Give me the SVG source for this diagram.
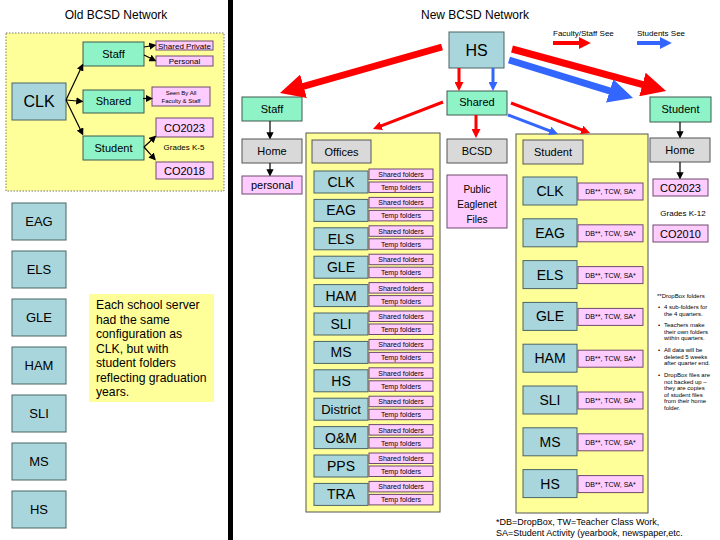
<svg xmlns="http://www.w3.org/2000/svg" width="720" height="540" viewBox="0 0 720 540">
<style>
text{font-family:"Liberation Sans",Arial,sans-serif;fill:#000}
.c{text-anchor:middle}
.teal{fill:#a9d6dc;stroke:#4a6464;stroke-width:1}
.mint{fill:#8ef3c6;stroke:#3d5a4e;stroke-width:1}
.pink{fill:#ffccff;stroke:#6e4a6e;stroke-width:1}
.gray{fill:#d9d9d9;stroke:#555;stroke-width:1}
.cont{fill:#ffff99;stroke:#555;stroke-width:1}
.rl{stroke:#ff0000;fill:none}
.bl{stroke:#3366ff;fill:none}
.kl{stroke:#000;stroke-width:1.2;fill:none;marker-end:url(#ak)}
.t16{font-size:16px}.t14{font-size:14px}.t13{font-size:13px}.t12{font-size:12px}.t11{font-size:11px}.t10{font-size:10px}.t8{font-size:8px}.t7{font-size:7px}.t6{font-size:6px}
.note{font-size:12.2px}
</style>
<defs>
<marker id="ar" viewBox="0 0 10 10" refX="1" refY="5" markerWidth="3" markerHeight="3" orient="auto"><path d="M0,0 L10,5 L0,10 z" fill="#ff0000"/></marker>
<marker id="ab" viewBox="0 0 10 10" refX="1" refY="5" markerWidth="3" markerHeight="3" orient="auto"><path d="M0,0 L10,5 L0,10 z" fill="#3366ff"/></marker>
<marker id="arB" viewBox="0 0 10 10" refX="1" refY="5" markerWidth="3.5" markerHeight="3.5" orient="auto"><path d="M0,0 L10,5 L0,10 z" fill="#ff0000"/></marker>
<marker id="abB" viewBox="0 0 10 10" refX="1" refY="5" markerWidth="3.5" markerHeight="3.5" orient="auto"><path d="M0,0 L10,5 L0,10 z" fill="#3366ff"/></marker>
<marker id="ak" viewBox="0 0 10 10" refX="1" refY="5" markerWidth="6" markerHeight="6" orient="auto"><path d="M0,0 L10,5 L0,10 z" fill="#000"/></marker>
</defs>
<rect width="720" height="540" fill="#fff"/>
<rect x="228" y="0" width="5" height="540" fill="#000"/>

<!-- OLD NETWORK -->
<text x="116" y="19" class="c t12">Old BCSD Network</text>
<rect x="6" y="33" width="218" height="158" fill="#ffff99" stroke="#777" stroke-width="1" stroke-dasharray="1.5,1.5"/>
<g id="old-clk"><rect x="12" y="83" width="54" height="37" class="teal"/><text x="39" y="107" class="c t16">CLK</text></g>
<g id="old-staff"><rect x="83" y="42" width="61" height="24" class="mint"/><text x="113.5" y="58" class="c t11">Staff</text></g>
<g id="old-shared"><rect x="83" y="90" width="61" height="23" class="mint"/><text x="113.5" y="105" class="c t11">Shared</text></g>
<g id="old-student"><rect x="83" y="136" width="61" height="24" class="mint"/><text x="113.5" y="152" class="c t11">Student</text></g>
<g id="old-sharedprivate"><rect x="156" y="41" width="57" height="9" class="pink"/><text x="184.5" y="48.5" class="c t8">Shared Private</text></g>
<g id="old-personal"><rect x="156" y="56" width="57" height="10" class="pink"/><text x="184.5" y="64" class="c t8">Personal</text></g>
<g id="old-seen"><rect x="152" y="87" width="58" height="19" class="pink"/><text x="181" y="95" class="c t6">Seen By All</text><text x="181" y="103" class="c t6">Faculty &amp; Staff</text></g>
<g id="old-co2023"><rect x="156" y="118" width="57" height="19" class="pink"/><text x="184.5" y="131.5" class="c t11">CO2023</text></g>
<text x="184" y="150" class="c t8">Grades K-5</text>
<g id="old-co2018"><rect x="156" y="162" width="57" height="17" class="pink"/><text x="184.5" y="174.5" class="c t11">CO2018</text></g>

<g id="old-eag"><rect x="12" y="203" width="54" height="37" class="teal"/><text x="39" y="226" class="c t13">EAG</text></g>
<g id="old-els"><rect x="12" y="251" width="54" height="37" class="teal"/><text x="39" y="274" class="c t13">ELS</text></g>
<g id="old-gle"><rect x="12" y="299" width="54" height="37" class="teal"/><text x="39" y="322" class="c t13">GLE</text></g>
<g id="old-ham"><rect x="12" y="347" width="54" height="37" class="teal"/><text x="39" y="370" class="c t13">HAM</text></g>
<g id="old-sli"><rect x="12" y="395" width="54" height="37" class="teal"/><text x="39" y="418" class="c t13">SLI</text></g>
<g id="old-ms"><rect x="12" y="443" width="54" height="37" class="teal"/><text x="39" y="466" class="c t13">MS</text></g>
<g id="old-hs"><rect x="12" y="491" width="54" height="37" class="teal"/><text x="39" y="514" class="c t13">HS</text></g>

<g id="note">
<rect x="89" y="294" width="125" height="108" fill="#ffff99"/>
<text x="96" y="309" class="note">Each school server</text>
<text x="96" y="323.5" class="note">had the same</text>
<text x="96" y="338" class="note">configuration as</text>
<text x="96" y="352.5" class="note">CLK, but with</text>
<text x="96" y="367" class="note">student folders</text>
<text x="96" y="381.5" class="note">reflecting graduation</text>
<text x="96" y="396" class="note">years.</text>
</g>

<!-- NEW NETWORK -->
<text x="475" y="19" class="c t12">New BCSD Network</text>
<text x="553" y="36" class="t8">Faculty/Staff See</text>
<text x="637" y="36" class="t8">Students See</text>

<rect x="306" y="133" width="134" height="379" class="cont"/>
<rect x="516" y="134" width="132" height="379" class="cont"/>

<g id="hs"><rect x="449" y="32" width="55" height="36" class="teal"/><text x="476.5" y="56" class="c t16">HS</text></g>
<g id="staff"><rect x="242" y="97" width="60" height="24" class="mint"/><text x="272" y="113" class="c t11">Staff</text></g>
<g id="home-staff"><rect x="242" y="139" width="60" height="24" class="gray"/><text x="272" y="155" class="c t11">Home</text></g>
<g id="personal"><rect x="242" y="176" width="60" height="18" class="pink"/><text x="272" y="189" class="c t11">personal</text></g>
<g id="shared"><rect x="447" y="91" width="60" height="24" class="mint"/><text x="477" y="106" class="c t11">Shared</text></g>
<g id="student"><rect x="650" y="97" width="61" height="25" class="mint"/><text x="680.5" y="113" class="c t11">Student</text></g>
<g id="home-student"><rect x="650" y="138" width="60" height="24" class="gray"/><text x="680" y="154" class="c t11">Home</text></g>
<g id="co2023"><rect x="653" y="179" width="55" height="17" class="pink"/><text x="680.5" y="191.5" class="c t11">CO2023</text></g>
<text x="683" y="216" class="c t8">Grades K-12</text>
<g id="co2010"><rect x="653" y="225" width="55" height="17" class="pink"/><text x="680.5" y="237.5" class="c t11">CO2010</text></g>

<g id="bcsd"><rect x="447" y="139" width="60" height="24" class="gray"/><text x="477" y="155" class="c t11">BCSD</text></g>
<g id="public"><rect x="447" y="175" width="60" height="53" class="pink"/><text x="477" y="193" class="c t10">Public</text><text x="477" y="208" class="c t10">Eaglenet</text><text x="477" y="223" class="c t10">Files</text></g>

<g id="offices"><rect x="312" y="140" width="59" height="23" class="gray"/><text x="341.5" y="156" class="c t11">Offices</text></g>
<g id="off-clk"><rect x="314" y="171" width="54" height="22" class="teal"/><text x="341" y="187" class="c t14">CLK</text><rect x="369" y="169" width="64" height="10.5" class="pink"/><text x="401" y="177" class="c t7">Shared folders</text><rect x="369" y="182" width="64" height="10.5" class="pink"/><text x="401" y="190" class="c t7">Temp folders</text></g>
<g id="off-eag"><rect x="314" y="199.4" width="54" height="22" class="teal"/><text x="341" y="215.4" class="c t14">EAG</text><rect x="369" y="197.4" width="64" height="10.5" class="pink"/><text x="401" y="205.4" class="c t7">Shared folders</text><rect x="369" y="210.4" width="64" height="10.5" class="pink"/><text x="401" y="218.4" class="c t7">Temp folders</text></g>
<g id="off-els"><rect x="314" y="227.8" width="54" height="22" class="teal"/><text x="341" y="243.8" class="c t14">ELS</text><rect x="369" y="225.8" width="64" height="10.5" class="pink"/><text x="401" y="233.8" class="c t7">Shared folders</text><rect x="369" y="238.8" width="64" height="10.5" class="pink"/><text x="401" y="246.8" class="c t7">Temp folders</text></g>
<g id="off-gle"><rect x="314" y="256.2" width="54" height="22" class="teal"/><text x="341" y="272.2" class="c t14">GLE</text><rect x="369" y="254.2" width="64" height="10.5" class="pink"/><text x="401" y="262.2" class="c t7">Shared folders</text><rect x="369" y="267.2" width="64" height="10.5" class="pink"/><text x="401" y="275.2" class="c t7">Temp folders</text></g>
<g id="off-ham"><rect x="314" y="284.6" width="54" height="22" class="teal"/><text x="341" y="300.6" class="c t14">HAM</text><rect x="369" y="282.6" width="64" height="10.5" class="pink"/><text x="401" y="290.6" class="c t7">Shared folders</text><rect x="369" y="295.6" width="64" height="10.5" class="pink"/><text x="401" y="303.6" class="c t7">Temp folders</text></g>
<g id="off-sli"><rect x="314" y="313" width="54" height="22" class="teal"/><text x="341" y="329" class="c t14">SLI</text><rect x="369" y="311" width="64" height="10.5" class="pink"/><text x="401" y="319" class="c t7">Shared folders</text><rect x="369" y="324" width="64" height="10.5" class="pink"/><text x="401" y="332" class="c t7">Temp folders</text></g>
<g id="off-ms"><rect x="314" y="341.4" width="54" height="22" class="teal"/><text x="341" y="357.4" class="c t14">MS</text><rect x="369" y="339.4" width="64" height="10.5" class="pink"/><text x="401" y="347.4" class="c t7">Shared folders</text><rect x="369" y="352.4" width="64" height="10.5" class="pink"/><text x="401" y="360.4" class="c t7">Temp folders</text></g>
<g id="off-hs"><rect x="314" y="369.8" width="54" height="22" class="teal"/><text x="341" y="385.8" class="c t14">HS</text><rect x="369" y="367.8" width="64" height="10.5" class="pink"/><text x="401" y="375.8" class="c t7">Shared folders</text><rect x="369" y="380.8" width="64" height="10.5" class="pink"/><text x="401" y="388.8" class="c t7">Temp folders</text></g>
<g id="off-district"><rect x="314" y="398.2" width="54" height="22" class="teal"/><text x="341" y="413.7" class="c t13">District</text><rect x="369" y="396.2" width="64" height="10.5" class="pink"/><text x="401" y="404.2" class="c t7">Shared folders</text><rect x="369" y="409.2" width="64" height="10.5" class="pink"/><text x="401" y="417.2" class="c t7">Temp folders</text></g>
<g id="off-om"><rect x="314" y="426.6" width="54" height="22" class="teal"/><text x="341" y="442.6" class="c t14">O&amp;M</text><rect x="369" y="424.6" width="64" height="10.5" class="pink"/><text x="401" y="432.6" class="c t7">Shared folders</text><rect x="369" y="437.6" width="64" height="10.5" class="pink"/><text x="401" y="445.6" class="c t7">Temp folders</text></g>
<g id="off-pps"><rect x="314" y="455" width="54" height="22" class="teal"/><text x="341" y="471" class="c t14">PPS</text><rect x="369" y="453" width="64" height="10.5" class="pink"/><text x="401" y="461" class="c t7">Shared folders</text><rect x="369" y="466" width="64" height="10.5" class="pink"/><text x="401" y="474" class="c t7">Temp folders</text></g>
<g id="off-tra"><rect x="314" y="483.4" width="54" height="22" class="teal"/><text x="341" y="499.4" class="c t14">TRA</text><rect x="369" y="481.4" width="64" height="10.5" class="pink"/><text x="401" y="489.4" class="c t7">Shared folders</text><rect x="369" y="494.4" width="64" height="10.5" class="pink"/><text x="401" y="502.4" class="c t7">Temp folders</text></g>

<g id="student-label"><rect x="523" y="140" width="60" height="24" class="gray"/><text x="553" y="156" class="c t11">Student</text></g>
<g id="st-clk"><rect x="523" y="177" width="54" height="28" class="teal"/><text x="550" y="196" class="c t14">CLK</text><rect x="578" y="183" width="65" height="17" class="pink"/><text x="610.5" y="194" class="c t7">DB**, TCW, SA*</text></g>
<g id="st-eag"><rect x="523" y="218.8" width="54" height="28" class="teal"/><text x="550" y="237.8" class="c t14">EAG</text><rect x="578" y="224.8" width="65" height="17" class="pink"/><text x="610.5" y="235.8" class="c t7">DB**, TCW, SA*</text></g>
<g id="st-els"><rect x="523" y="260.6" width="54" height="28" class="teal"/><text x="550" y="279.6" class="c t14">ELS</text><rect x="578" y="266.6" width="65" height="17" class="pink"/><text x="610.5" y="277.6" class="c t7">DB**, TCW, SA*</text></g>
<g id="st-gle"><rect x="523" y="302.4" width="54" height="28" class="teal"/><text x="550" y="321.4" class="c t14">GLE</text><rect x="578" y="308.4" width="65" height="17" class="pink"/><text x="610.5" y="319.4" class="c t7">DB**, TCW, SA*</text></g>
<g id="st-ham"><rect x="523" y="344.2" width="54" height="28" class="teal"/><text x="550" y="363.2" class="c t14">HAM</text><rect x="578" y="350.2" width="65" height="17" class="pink"/><text x="610.5" y="361.2" class="c t7">DB**, TCW, SA*</text></g>
<g id="st-sli"><rect x="523" y="386" width="54" height="28" class="teal"/><text x="550" y="405" class="c t14">SLI</text><rect x="578" y="392" width="65" height="17" class="pink"/><text x="610.5" y="403" class="c t7">DB**, TCW, SA*</text></g>
<g id="st-ms"><rect x="523" y="427.8" width="54" height="28" class="teal"/><text x="550" y="446.8" class="c t14">MS</text><rect x="578" y="433.8" width="65" height="17" class="pink"/><text x="610.5" y="444.8" class="c t7">DB**, TCW, SA*</text></g>
<g id="st-hs"><rect x="523" y="469.6" width="54" height="28" class="teal"/><text x="550" y="488.6" class="c t14">HS</text><rect x="578" y="475.6" width="65" height="17" class="pink"/><text x="610.5" y="486.6" class="c t7">DB**, TCW, SA*</text></g>

<g id="dropbox-notes">
<text x="657" y="298" class="t6">**DropBox folders</text>
<text x="658" y="309" class="t6">•</text><text x="664" y="309" class="t6">4 sub-folders for</text>
<text x="664" y="315.5" class="t6">the 4 quarters.</text>
<text x="658" y="327" class="t6">•</text><text x="664" y="327" class="t6">Teachers make</text>
<text x="664" y="333.5" class="t6">their own folders</text>
<text x="664" y="340" class="t6">within quarters.</text>
<text x="658" y="352" class="t6">•</text><text x="664" y="352" class="t6">All data will be</text>
<text x="664" y="358.5" class="t6">deleted 5 weeks</text>
<text x="664" y="365" class="t6">after quarter end.</text>
<text x="658" y="377" class="t6">•</text><text x="664" y="377" class="t6">DropBox files are</text>
<text x="664" y="383.5" class="t6">not backed up –</text>
<text x="664" y="390" class="t6">they are copies</text>
<text x="664" y="396.5" class="t6">of student files</text>
<text x="664" y="403" class="t6">from their home</text>
<text x="664" y="409.5" class="t6">folder.</text>
</g>

<text x="496" y="525" style="font-size:9px">*DB=DropBox, TW=Teacher Class Work,</text>
<text x="496" y="536" style="font-size:9px">SA=Student Activity (yearbook, newspaper,etc.</text>

<g id="connectors">
<!-- old network -->
<line x1="66" y1="100" x2="80.4" y2="69.4" class="kl"/>
<line x1="66" y1="100" x2="77" y2="101" class="kl"/>
<line x1="66" y1="100" x2="80.4" y2="129.6" class="kl"/>
<line x1="144" y1="47" x2="150" y2="46" class="kl"/>
<line x1="144" y1="55" x2="150.6" y2="58.3" class="kl"/>
<line x1="143" y1="98.5" x2="146.5" y2="98.5" class="kl"/>
<line x1="144" y1="147" x2="151.6" y2="140" class="kl"/>
<line x1="144" y1="147" x2="151.6" y2="155.6" class="kl"/>
<!-- new network black -->
<line x1="270" y1="121" x2="270" y2="133" class="kl"/>
<line x1="270" y1="163" x2="270" y2="170" class="kl"/>
<line x1="680" y1="122" x2="680" y2="132" class="kl"/>
<line x1="680" y1="162" x2="680" y2="173" class="kl"/>
<!-- legend -->
<line x1="553" y1="43" x2="580" y2="43" class="rl" stroke-width="4" marker-end="url(#ar)"/>
<line x1="637" y1="43" x2="661" y2="43" class="bl" stroke-width="4" marker-end="url(#ab)"/>
<!-- big arrows -->
<line x1="442" y1="47" x2="301.2" y2="87" class="rl" stroke-width="7" marker-end="url(#arB)"/>
<line x1="512" y1="49" x2="644.8" y2="85.2" class="rl" stroke-width="7" marker-end="url(#arB)"/>
<line x1="509" y1="60" x2="612" y2="91.6" class="bl" stroke-width="7" marker-end="url(#abB)"/>
<!-- small arrows -->
<line x1="459" y1="68" x2="459" y2="83" class="rl" stroke-width="3" marker-end="url(#ar)"/>
<line x1="493" y1="68" x2="493" y2="83" class="bl" stroke-width="3" marker-end="url(#ab)"/>
<line x1="443" y1="102" x2="380.5" y2="126.1" class="rl" stroke-width="3" marker-end="url(#ar)"/>
<line x1="476" y1="115" x2="476" y2="130" class="rl" stroke-width="3" marker-end="url(#ar)"/>
<line x1="508" y1="115" x2="550.5" y2="131.2" class="bl" stroke-width="3" marker-end="url(#ab)"/>
<line x1="511" y1="103" x2="582.5" y2="130.2" class="rl" stroke-width="3" marker-end="url(#ar)"/>
</g>
</svg>
